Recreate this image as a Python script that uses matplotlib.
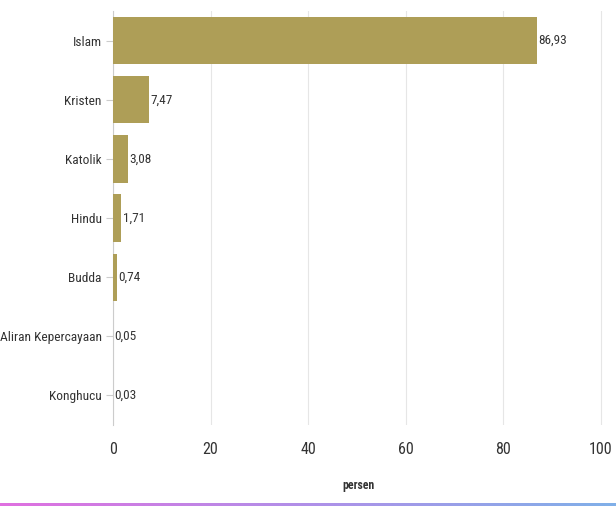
import numpy as np
import matplotlib.pyplot as plt
from matplotlib.colors import LinearSegmentedColormap

# data
categories = ['Islam', 'Kristen', 'Katolik', 'Hindu', 'Budda',
              'Aliran Kepercayaan', 'Konghucu']
values = [86.93, 7.47, 3.08, 1.71, 0.74, 0.05, 0.03]
x_ticks = [0, 20, 40, 60, 80, 100]

bar_color = '#AE9E57'
text_color = '#333333'
grid_color = '#E6E6E6'

plt.rcParams['font.family'] = ['Roboto Condensed', 'DejaVu Sans']

fig = plt.figure(figsize=(6.16, 5.08), dpi=100)
ax = fig.add_axes([0.1834, 0.1634, 0.7956, 0.8146])

y_pos = np.arange(len(categories))
ax.barh(y_pos, values, height=0.8, color=bar_color, zorder=3)

for y, v in zip(y_pos, values):
    label = f'{v:.2f}'.replace('.', ',')
    ax.text(v + 0.3, y, label, va='center', ha='left',
            fontsize=9.5, color=text_color, zorder=4)

ax.set_xlim(0, 100.5)
ax.set_ylim(6.5, -0.5)
ax.set_yticks(y_pos)
ax.set_yticklabels(categories, fontsize=9.6, color=text_color)
ax.set_xticks(x_ticks)
ax.set_xticklabels([str(t) for t in x_ticks], fontsize=11.5, color=text_color)

ax.grid(axis='x', color=grid_color, linewidth=0.8, zorder=0)
ax.tick_params(axis='y', length=5, color='#CCCCCC', pad=3)
ax.tick_params(axis='x', length=0, pad=12)

for side in ['top', 'right', 'bottom']:
    ax.spines[side].set_visible(False)
ax.spines['left'].set_color('#CCCCCC')
ax.spines['left'].set_linewidth(0.8)

ax.set_xlabel('persen', fontsize=8.5, fontweight='bold', color=text_color, labelpad=16)

# thin gradient strip at the bottom edge
strip = fig.add_axes([0, 0.003, 1, 0.006])
cmap = LinearSegmentedColormap.from_list('strip', ['#E070E0', '#B090E8', '#80B0E8'])
strip.imshow(np.linspace(0, 1, 256).reshape(1, -1), aspect='auto', cmap=cmap)
strip.axis('off')

fig.savefig('out.png', dpi=100)
